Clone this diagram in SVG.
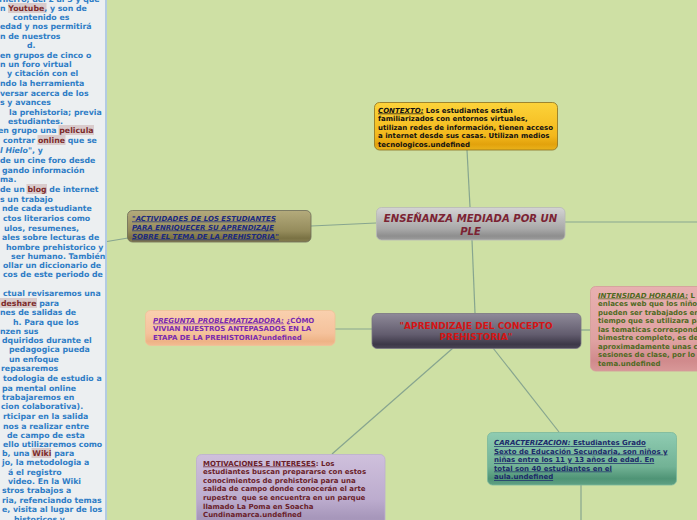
<svg xmlns="http://www.w3.org/2000/svg" width="697" height="520" viewBox="0 0 697 520">
<defs>
<linearGradient id="gCtx" x1="0" y1="0" x2="0" y2="1"><stop offset="0" stop-color="#fcd33a"/><stop offset="0.7" stop-color="#f3b81c"/><stop offset="0.88" stop-color="#e2a20c"/><stop offset="1" stop-color="#eab21a"/></linearGradient>
<linearGradient id="gEns" x1="0" y1="0" x2="0" y2="1"><stop offset="0" stop-color="#d4d4d4"/><stop offset="0.65" stop-color="#a9a9a9"/><stop offset="0.88" stop-color="#8e8e8e"/><stop offset="1" stop-color="#9c9c9c"/></linearGradient>
<linearGradient id="gAct" x1="0" y1="0" x2="0" y2="1"><stop offset="0" stop-color="#b4ab7c"/><stop offset="0.65" stop-color="#958c5c"/><stop offset="0.88" stop-color="#7a7244"/><stop offset="1" stop-color="#857d50"/></linearGradient>
<linearGradient id="gApr" x1="0" y1="0" x2="0" y2="1"><stop offset="0" stop-color="#8f8a99"/><stop offset="0.6" stop-color="#625c6e"/><stop offset="0.88" stop-color="#3d3848"/><stop offset="1" stop-color="#4a4556"/></linearGradient>
<linearGradient id="gPre" x1="0" y1="0" x2="0" y2="1"><stop offset="0" stop-color="#f9d0ae"/><stop offset="0.65" stop-color="#f5c29c"/><stop offset="0.88" stop-color="#eeb386"/><stop offset="1" stop-color="#f2bc92"/></linearGradient>
<linearGradient id="gInt" x1="0" y1="0" x2="0" y2="1"><stop offset="0" stop-color="#e8b0b0"/><stop offset="0.65" stop-color="#dfa1a1"/><stop offset="0.88" stop-color="#d08a8c"/><stop offset="1" stop-color="#d89898"/></linearGradient>
<linearGradient id="gCar" x1="0" y1="0" x2="0" y2="1"><stop offset="0" stop-color="#8fccb2"/><stop offset="0.65" stop-color="#72b295"/><stop offset="0.88" stop-color="#4f9476"/><stop offset="1" stop-color="#5fa083"/></linearGradient>
<linearGradient id="gMot" x1="0" y1="0" x2="0" y2="1"><stop offset="0" stop-color="#cfc0dc"/><stop offset="0.6" stop-color="#bcacce"/><stop offset="0.85" stop-color="#a696ba"/><stop offset="1" stop-color="#b0a0c2"/></linearGradient>
</defs>
<style>
.bg{fill:#cee0a4}
.panel{fill:#eceff1}
.pborder{stroke:#b3cbe2;stroke-width:2;fill:none}
.lt{font-family:"DejaVu Sans",Verdana,sans-serif;font-weight:bold;font-size:7.8px;fill:#2f7dc6}
.hl{fill:#7d2b2b}
.hlb{fill:#d9cbcc}
.conn line,.conn path{stroke:#87a58f;stroke-width:1.2;fill:none}
.box{stroke-width:0.8}
.bt{font-family:"DejaVu Sans",Verdana,sans-serif;font-weight:bold;font-size:7px}
.it{font-style:italic}
.ul{text-decoration:underline}
</style>
<rect class="bg" x="0" y="0" width="697" height="520"/>

<g id="panel">
<rect class="panel" x="0" y="0" width="106" height="520"/>
<line class="pborder" x1="106" y1="0" x2="106" y2="520"/>
<rect class="hlb" x="8" y="3" width="38.5" height="10"/>
<rect class="hlb" x="58.5" y="125" width="35.5" height="10"/>
<rect class="hlb" x="37.5" y="135" width="28" height="10"/>
<rect class="hlb" x="26.5" y="184" width="20.5" height="10"/>
<rect class="hlb" x="0" y="298" width="37" height="10"/>
<rect class="hlb" x="31.5" y="448" width="19.5" height="10"/>
<text class="lt" x="-1" y="2">Hierro, del 2 al 5 y que</text>
<text class="lt" x="0" y="10.8">n <tspan class="hl">Youtube</tspan>, y son de</text>
<text class="lt" x="13" y="19.8">contenido es</text>
<text class="lt" x="0" y="28.8">edad y nos permitirá</text>
<text class="lt" x="0" y="38.8">n de nuestros</text>
<text class="lt" x="27" y="47.8">d.</text>
<text class="lt" x="0" y="57.8">en grupos de cinco o</text>
<text class="lt" x="0" y="66.8">n un foro virtual</text>
<text class="lt" x="7" y="75.8">y citación con el</text>
<text class="lt" x="0" y="85.8">ndo la herramienta</text>
<text class="lt" x="0" y="95.8">versar acerca de los</text>
<text class="lt" x="0" y="104.8">s y avances</text>
<text class="lt" x="9" y="114.8">la prehistoria; previa</text>
<text class="lt" x="8" y="123.8">estudiantes.</text>
<text class="lt" x="-2" y="132.8">en grupo una <tspan class="hl">pelicula</tspan></text>
<text class="lt" x="3" y="142.8">contrar <tspan class="hl">online</tspan> que se</text>
<text class="lt" x="0" y="152.8"><tspan class="it">l Hielo"</tspan>, y</text>
<text class="lt" x="0" y="162.8">de un cine foro desde</text>
<text class="lt" x="2" y="172.8">gando información</text>
<text class="lt" x="0" y="181.8">ma.</text>
<text class="lt" x="0" y="191.8">de un <tspan class="hl">blog</tspan> de internet</text>
<text class="lt" x="0" y="201.8">s un trabajo</text>
<text class="lt" x="2" y="210.8">nde cada estudiante</text>
<text class="lt" x="3" y="220.8">ctos literarios como</text>
<text class="lt" x="4" y="230.8">ulos, resumenes,</text>
<text class="lt" x="2" y="239.8">ales sobre lecturas de</text>
<text class="lt" x="6" y="249.8">hombre prehistorico y</text>
<text class="lt" x="11" y="258.8">ser humano. También</text>
<text class="lt" x="3" y="267.8">ollar un diccionario de</text>
<text class="lt" x="3" y="276.8">cos de este periodo de</text>
<text class="lt" x="3" y="295.8">ctual revisaremos una</text>
<text class="lt" x="1" y="305.8"><tspan class="hl">deshare</tspan> para</text>
<text class="lt" x="0" y="314.8">nes de salidas de</text>
<text class="lt" x="13" y="324.8">h. Para que los</text>
<text class="lt" x="0" y="333.8">nzen sus</text>
<text class="lt" x="2" y="342.8">dquiridos  durante el</text>
<text class="lt" x="9" y="351.8">pedagogica pueda</text>
<text class="lt" x="9" y="361.8">un enfoque</text>
<text class="lt" x="1" y="370.8">repasaremos</text>
<text class="lt" x="3" y="380.8">todologia de estudio a</text>
<text class="lt" x="2" y="390.8">pa mental online</text>
<text class="lt" x="2" y="399.8">trabajaremos en</text>
<text class="lt" x="1" y="408.8">cion colaborativa).</text>
<text class="lt" x="3" y="418.8">rticipar en la salida</text>
<text class="lt" x="3" y="428.8">nos a realizar entre</text>
<text class="lt" x="7" y="437.8">de campo de esta</text>
<text class="lt" x="3" y="446.8">ello utilizaremos como</text>
<text class="lt" x="2" y="455.8">b, una <tspan class="hl">Wiki</tspan> para</text>
<text class="lt" x="2" y="464.8">jo, la metodologia a</text>
<text class="lt" x="8" y="474.8">á el registro</text>
<text class="lt" x="8" y="483.8">video. En la Wiki</text>
<text class="lt" x="2" y="492.8">stros trabajos a</text>
<text class="lt" x="2" y="502.8">ria, refenciando temas</text>
<text class="lt" x="2" y="511.8">e, visita al lugar de los</text>
<text class="lt" x="14" y="521.8">historicos y</text>
</g>

<g id="connectors" class="conn">
<line x1="467" y1="150" x2="470" y2="207"/>
<line x1="376" y1="223" x2="311" y2="226"/>
<line x1="565" y1="222" x2="697" y2="222"/>
<line x1="107" y1="241.5" x2="128" y2="238"/>
<line x1="472" y1="240" x2="475" y2="313"/>
<line x1="372" y1="329" x2="335" y2="329"/>
<line x1="581" y1="330" x2="590" y2="330"/>
<line x1="493" y1="348" x2="559" y2="432"/>
<line x1="453" y1="348" x2="332" y2="454"/>
<line x1="581" y1="485" x2="581" y2="520"/>
</g>

<g id="contexto">
<rect class="box" x="374.5" y="102.5" width="183" height="47.5" rx="5" fill="url(#gCtx)" stroke="#8c7020"/>
<text class="bt" x="378" y="112.5" fill="#111"><tspan class="it ul">CONTEXTO:</tspan> Los estudiantes están</text>
<text class="bt" x="378" y="121" fill="#111">familiarizados con entornos virtuales,</text>
<text class="bt" x="378" y="129.5" fill="#111">utilizan redes de información, tienen acceso</text>
<text class="bt" x="378" y="138" fill="#111">a internet desde sus casas. Utilizan medios</text>
<text class="bt" x="378" y="146.5" fill="#111">tecnologicos.undefined</text>
</g>

<g id="ensenanza">
<rect class="box" x="376.5" y="207.5" width="188.5" height="32.5" rx="5" fill="url(#gEns)" stroke="#b8b8b8"/>
<text x="470.5" y="222" text-anchor="middle" font-family="DejaVu Sans, Verdana, sans-serif" font-weight="bold" font-style="italic" font-size="10.1" fill="#7b2333">ENSEÑANZA MEDIADA POR UN</text>
<text x="470.5" y="234.5" text-anchor="middle" font-family="DejaVu Sans, Verdana, sans-serif" font-weight="bold" font-style="italic" font-size="10.1" fill="#7b2333">PLE</text>
</g>

<g id="actividades">
<rect class="box" x="127.5" y="210.5" width="183.5" height="31.5" rx="5" fill="url(#gAct)" stroke="#6c6a58"/>
<text class="bt it ul" x="132" y="220.5" fill="#1b2a80">"ACTIVIDADES DE LOS ESTUDIANTES</text>
<text class="bt it ul" x="132" y="229.5" fill="#1b2a80">PARA ENRIQUECER SU APRENDIZAJE</text>
<text class="bt it ul" x="132" y="238.5" fill="#1b2a80">SOBRE EL TEMA DE LA PREHISTORIA"</text>
</g>

<g id="aprendizaje">
<rect class="box" x="372" y="313.5" width="209" height="35" rx="5" fill="url(#gApr)" stroke="#7a7584"/>
<text x="476" y="328.5" text-anchor="middle" font-family="DejaVu Sans, Verdana, sans-serif" font-weight="bold" font-size="9" fill="#d41414">"APRENDIZAJE DEL CONCEPTO</text>
<text x="476" y="339.5" text-anchor="middle" font-family="DejaVu Sans, Verdana, sans-serif" font-weight="bold" font-size="9" fill="#d41414">PREHISTORIA"</text>
</g>

<g id="pregunta">
<rect class="box" x="145.5" y="310.5" width="189.5" height="35" rx="5" fill="url(#gPre)" stroke="#f0c098"/>
<text class="bt" x="153" y="322.5" fill="#7a2ab0"><tspan class="it ul">PREGUNTA PROBLEMATIZADORA:</tspan> ¿CÓMO</text>
<text class="bt" x="153" y="331" fill="#7a2ab0">VIVIAN NUESTROS ANTEPASADOS EN LA</text>
<text class="bt" x="153" y="339.5" fill="#7a2ab0">ETAPA DE LA PREHISTORIA?undefined</text>
</g>

<g id="intensidad">
<rect class="box" x="590.5" y="286.5" width="120" height="84.5" rx="5" fill="url(#gInt)" stroke="#d49a9a"/>
<text class="bt" x="598" y="297.5" fill="#4f6a1f"><tspan class="it ul">INTENSIDAD HORARIA:</tspan> L</text>
<text class="bt" x="598" y="306" fill="#4f6a1f">enlaces web que los niño</text>
<text class="bt" x="598" y="314.5" fill="#4f6a1f">pueden ser trabajados en</text>
<text class="bt" x="598" y="323" fill="#4f6a1f">tiempo que se utilizara pa</text>
<text class="bt" x="598" y="331.5" fill="#4f6a1f">las tematicas correspond</text>
<text class="bt" x="598" y="340" fill="#4f6a1f">bimestre completo, es de</text>
<text class="bt" x="598" y="348.5" fill="#4f6a1f">aproximadamente unas c</text>
<text class="bt" x="598" y="357" fill="#4f6a1f">sesiones de clase, por lo</text>
<text class="bt" x="598" y="365.5" fill="#4f6a1f">tema.undefined</text>
</g>

<g id="caracterizacion">
<rect class="box" x="487.5" y="432.5" width="189" height="52.5" rx="5" fill="url(#gCar)" stroke="#7ab89c"/>
<text class="bt ul" x="494" y="445" fill="#1c2a6a"><tspan class="it">CARACTERIZACION:</tspan> Estudiantes Grado</text>
<text class="bt ul" x="494" y="453.5" fill="#1c2a6a">Sexto de Educación Secundaria, son niños y</text>
<text class="bt ul" x="494" y="462" fill="#1c2a6a">niñas entre los 11 y 13 años de edad. En</text>
<text class="bt ul" x="494" y="470.5" fill="#1c2a6a">total son 40 estudiantes en el</text>
<text class="bt ul" x="494" y="479" fill="#1c2a6a">aula.undefined</text>
</g>

<g id="motivaciones">
<rect class="box" x="196.5" y="454.5" width="188.5" height="75" rx="5" fill="url(#gMot)" stroke="#bcaed0"/>
<text class="bt" x="203" y="465.5" fill="#6a1e2a"><tspan class="ul">MOTIVACIONES E INTERESES</tspan>: Los</text>
<text class="bt" x="203" y="474.1" fill="#6a1e2a">estudiantes buscan prepararse con estos</text>
<text class="bt" x="203" y="482.7" fill="#6a1e2a">conocimientos de prehistoria para una</text>
<text class="bt" x="203" y="491.3" fill="#6a1e2a">salida de campo donde conocerán el arte</text>
<text class="bt" x="203" y="499.9" fill="#6a1e2a" xml:space="preserve">rupestre  que se encuentra en un parque</text>
<text class="bt" x="203" y="508.5" fill="#6a1e2a">llamado La Poma en Soacha</text>
<text class="bt" x="203" y="517.1" fill="#6a1e2a">Cundinamarca.undefined</text>
</g>
</svg>
